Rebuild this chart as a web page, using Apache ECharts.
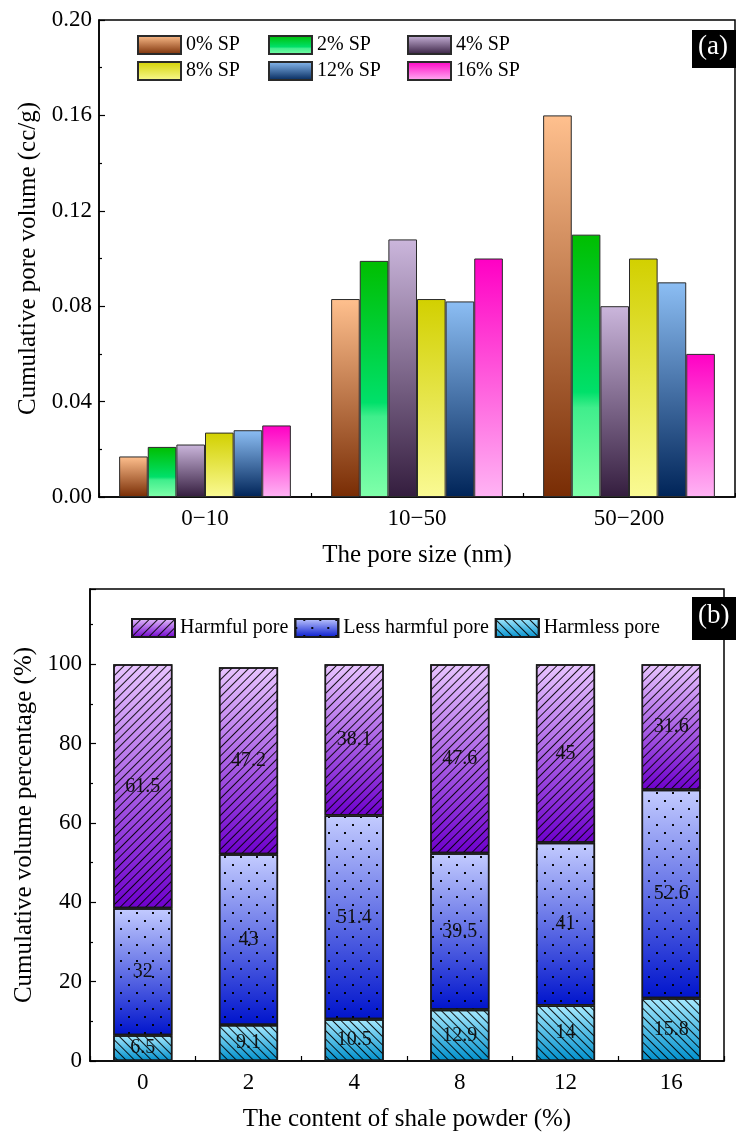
<!DOCTYPE html>
<html>
<head>
<meta charset="utf-8">
<script src="https://cdn.jsdelivr.net/npm/echarts@6/dist/echarts.min.js"></script>
<style>
html,body{margin:0;padding:0;background:#fff;}
#chart{width:736px;height:1133px;}
</style>
</head>
<body>
<div id="chart"></div>
<script>
// ---------- Panel (a) data ----------
const poreCats = ['0\u221210', '10\u221250', '50\u2212200'];
const spNames = ['0% SP', '2% SP', '4% SP', '8% SP', '12% SP', '16% SP'];
const sp0  = [0.017, 0.083, 0.160];
const sp2  = [0.021, 0.099, 0.110];
const sp4  = [0.022, 0.108, 0.080];
const sp8  = [0.027, 0.083, 0.100];
const sp12 = [0.028, 0.082, 0.090];
const sp16 = [0.030, 0.100, 0.060];

// ---------- Panel (b) data ----------
const shaleCats = ['0', '2', '4', '8', '12', '16'];
const poreTypes = ['Harmful pore', 'Less harmful pore', 'Harmless pore'];
const harmless    = [6.5, 9.1, 10.5, 12.9, 14, 15.8];
const lessHarmful = [32, 43, 51.4, 39.5, 41, 52.6];
const harmful     = [61.5, 47.2, 38.1, 47.6, 45, 31.6];

const FONT = '"Liberation Serif", "Times New Roman", serif';

function grad(stops) {
  return new echarts.graphic.LinearGradient(0, 0, 0, 1,
    stops.map(s => ({offset: s[0], color: s[1]})));
}

const spGradients = [
  grad([[0, '#FFC08E'], [1, '#782C04']]),
  grad([[0, '#00BE00'], [0.6, '#00E06A'], [0.66, '#40EE8C'], [1, '#80FFAA']]),
  grad([[0, '#CBB6DC'], [1, '#341D3E']]),
  grad([[0, '#D2D000'], [1, '#FAFA94']]),
  grad([[0, '#8CBEF4'], [1, '#002458']]),
  grad([[0, '#FF00C4'], [1, '#FFB4F4']])
];
const spData = [sp0, sp2, sp4, sp8, sp12, sp16];

const seriesA = spNames.map((n, i) => ({
  name: n,
  type: 'bar',
  xAxisIndex: 0,
  yAxisIndex: 0,
  barGap: '0%',
  barCategoryGap: '19%',
  data: spData[i],
  itemStyle: {color: spGradients[i], borderColor: '#2a2a2a', borderWidth: 1}
}));

const hatchSlash = {
  symbol: 'rect', symbolSize: 1, color: 'rgba(0,0,0,0.9)',
  dashArrayX: [1, 0], dashArrayY: [1, 5], rotation: -Math.PI / 4
};
const hatchBack = {
  symbol: 'rect', symbolSize: 1, color: 'rgba(0,0,0,0.9)',
  dashArrayX: [1, 0], dashArrayY: [1, 5], rotation: Math.PI / 4
};
const dots = {
  symbol: 'rect', symbolSize: 1, color: 'rgba(0,0,0,0.95)',
  dashArrayX: [[2, 14], [0, 8, 2, 6]], dashArrayY: [2, 6], rotation: 0
};

const labelB = {show: true, position: 'inside', color: '#111', fontSize: 20, fontFamily: FONT};

const seriesB = [
  {name: 'Harmless pore', data: harmless, decal: hatchBack,
   color: grad([[0, '#A8EAFF'], [1, '#0090CC']])},
  {name: 'Less harmful pore', data: lessHarmful, decal: dots,
   color: grad([[0, '#C4CCFF'], [1, '#0014CC']])},
  {name: 'Harmful pore', data: harmful, decal: hatchSlash,
   color: grad([[0, '#E8C4FF'], [1, '#6E00CC']])}
].map(s => ({
  name: s.name,
  type: 'bar',
  stack: 'total',
  xAxisIndex: 1,
  yAxisIndex: 1,
  barWidth: '56%',
  data: s.data,
  label: labelB,
  itemStyle: {color: s.color, borderColor: '#1a1a1a', borderWidth: 1.5, decal: s.decal}
}));

const axisLine = {show: true, lineStyle: {color: '#000', width: 1.5}};
const tickStyle = {color: '#000', width: 1.2};
const legendText = {fontSize: 20, fontFamily: FONT, color: '#000'};

const chart = echarts.init(document.getElementById('chart'), null, {renderer: 'canvas'});
chart.setOption({
  animation: false,
  backgroundColor: '#fff',
  aria: {enabled: false},
  grid: [
    {left: 99, right: 1, top: 20, height: 477, show: true, borderColor: '#000', borderWidth: 1.5},
    {left: 90, right: 12, top: 589, height: 475, show: true, borderColor: '#000', borderWidth: 1.5}
  ],
  legend: [
    {data: [spNames[0], spNames[3]], orient: 'vertical', left: 137, top: 35, padding: 0, icon: 'rect',
     itemWidth: 43, itemHeight: 18, itemGap: 6, textStyle: legendText},
    {data: [spNames[1], spNames[4]], orient: 'vertical', left: 268, top: 35, padding: 0, icon: 'rect',
     itemWidth: 43, itemHeight: 18, itemGap: 6, textStyle: legendText},
    {data: [spNames[2], spNames[5]], orient: 'vertical', left: 407, top: 35, padding: 0, icon: 'rect',
     itemWidth: 43, itemHeight: 18, itemGap: 6, textStyle: legendText},
    {data: poreTypes, orient: 'horizontal', left: 131, top: 618, padding: 0, icon: 'rect',
     itemWidth: 43, itemHeight: 18, itemGap: 6, textStyle: legendText}
  ],
  xAxis: [
    {type: 'category', gridIndex: 0, data: poreCats,
     name: 'The pore size (nm)', nameLocation: 'middle', nameGap: 46,
     nameTextStyle: {fontSize: 25, fontFamily: FONT, color: '#000'},
     axisLine: axisLine,
     axisTick: {show: true, inside: true, length: 4, lineStyle: tickStyle},
     axisLabel: {fontSize: 23, fontFamily: FONT, color: '#000', margin: 10}},
    {type: 'category', gridIndex: 1, data: shaleCats,
     name: 'The content of shale powder (%)', nameLocation: 'middle', nameGap: 46,
     nameTextStyle: {fontSize: 25, fontFamily: FONT, color: '#000'},
     axisLine: axisLine,
     axisTick: {show: true, inside: true, length: 5, alignWithLabel: true, lineStyle: tickStyle},
     axisLabel: {fontSize: 23, fontFamily: FONT, color: '#000', margin: 10}},
    {type: 'category', gridIndex: 1, data: shaleCats, position: 'bottom',
     axisLine: {show: false},
     axisTick: {show: true, inside: true, length: 5, lineStyle: tickStyle},
     axisLabel: {show: false}}
  ],
  yAxis: [
    {type: 'value', gridIndex: 0, min: 0, max: 0.2, interval: 0.04,
     name: 'Cumulative pore volume (cc/g)', nameLocation: 'middle', nameGap: 58,
     nameTextStyle: {fontSize: 25, fontFamily: FONT, color: '#000'},
     axisLine: axisLine,
     axisTick: {show: true, inside: true, length: 6, lineStyle: tickStyle},
     minorTick: {show: true, splitNumber: 2, length: 3, lineStyle: tickStyle},
     splitLine: {show: false},
     axisLabel: {fontSize: 23, fontFamily: FONT, color: '#000', margin: 7,
                 formatter: v => v.toFixed(2)}},
    {type: 'value', gridIndex: 1, min: 0, max: 119, interval: 20,
     name: 'Cumulative volume percentage (%)', nameLocation: 'middle', nameGap: 48,
     nameTextStyle: {fontSize: 25, fontFamily: FONT, color: '#000'},
     axisLine: axisLine,
     axisTick: {show: true, inside: true, length: 6, lineStyle: tickStyle},
     minorTick: {show: true, splitNumber: 2, length: 3, lineStyle: tickStyle},
     splitLine: {show: false},
     axisLabel: {fontSize: 23, fontFamily: FONT, color: '#000', margin: 8, showMaxLabel: false,
                 formatter: v => (v % 20 === 0 ? String(v) : '')}}
  ],
  graphic: [
    {type: 'rect', left: 692, top: 30, shape: {width: 44, height: 38}, style: {fill: '#000'}, z: 100},
    {type: 'text', left: 698, top: 33, z: 101,
     style: {text: '(a)', fill: '#fff', font: '27px ' + FONT}},
    {type: 'rect', left: 692, top: 597, shape: {width: 44, height: 43}, style: {fill: '#000'}, z: 100},
    {type: 'text', left: 698, top: 602, z: 101,
     style: {text: '(b)', fill: '#fff', font: '27px ' + FONT}}
  ],
  series: seriesA.concat(seriesB)
});
</script>
</body>
</html>
